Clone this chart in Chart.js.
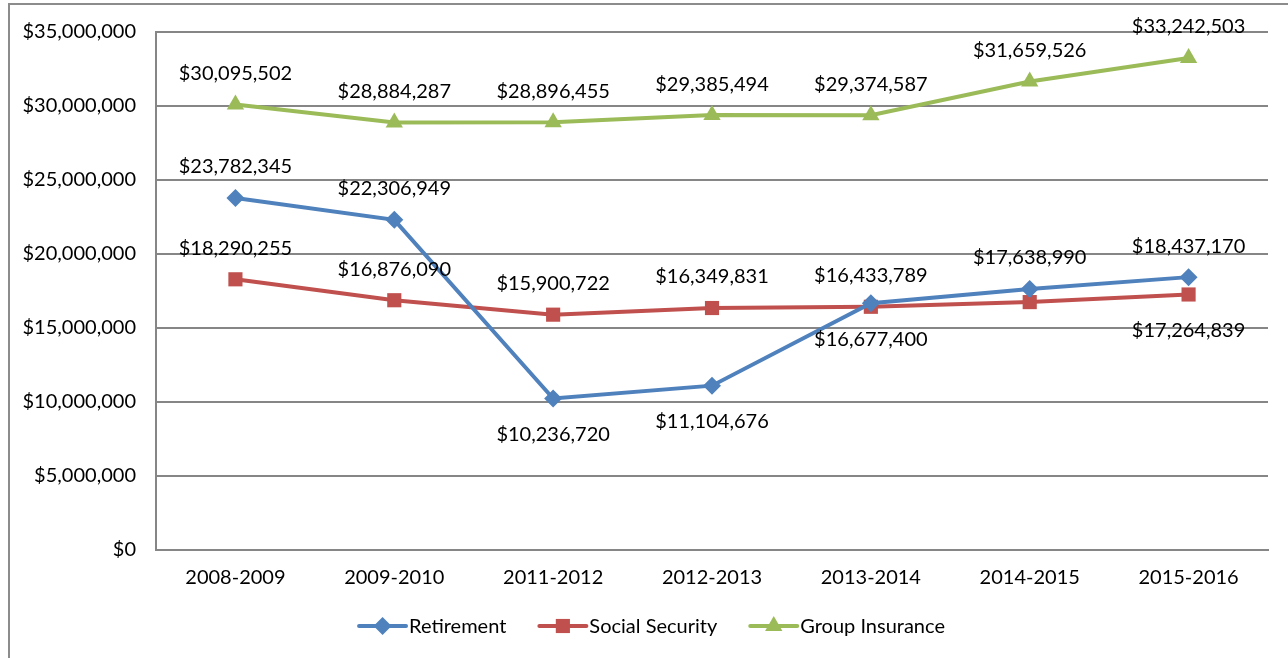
<!DOCTYPE html>
<html>
<head>
<meta charset="utf-8">
<script src="https://cdn.jsdelivr.net/npm/chart.js@4.4.1/dist/chart.umd.min.js"></script>
<style>
  body { margin: 0; background: #fff; overflow: hidden; }
  #frame { position: absolute; left: 8px; top: 3px; width: 1300px; height: 700px; border: 2px solid #8c8c8c; }
  #wrap { position: absolute; left: 0; top: 0; width: 1288px; height: 658px; }
</style>
</head>
<body>
<div id="frame"></div>
<div id="wrap"><canvas id="pensionChart"></canvas></div>
<script>
const years = ['2008-2009', '2009-2010', '2011-2012', '2012-2013', '2013-2014', '2014-2015', '2015-2016'];
const retirement = [23782345, 22306949, 10236720, 11104676, 16677400, 17638990, 18437170];
const socialSecurity = [18290255, 16876090, 15900722, 16349831, 16433789, 16750000, 17264839];
const groupInsurance = [30095502, 28884287, 28896455, 29385494, 29374587, 31659526, 33242503];
const yTicks = [0, 5000000, 10000000, 15000000, 20000000, 25000000, 30000000, 35000000];

// where each value label sits: 'a' above, 'b' below, '' none
const retirementLabelPos = ['a', 'a', 'b', 'b', 'b', 'a', 'a'];
const socialLabelPos = ['a', 'a', 'a', 'a', 'a', '', 'b'];
const groupLabelPos = ['a', 'a', 'a', 'a', 'a', 'a', 'a'];

const FONT = 'Lato, "Open Sans", sans-serif';
const FS = 20;
const money = v => '$' + v.toLocaleString('en-US');

const valueLabels = {
    id: 'valueLabels',
    afterDatasetsDraw(chart) {
        const ctx = chart.ctx;
        ctx.save();
        ctx.font = FS + 'px ' + FONT;
        ctx.fillStyle = '#000';
        ctx.textAlign = 'center';
        ctx.textBaseline = 'middle';
        chart.data.datasets.forEach((ds, i) => {
            const meta = chart.getDatasetMeta(i);
            meta.data.forEach((pt, j) => {
                const pos = ds.labelPos[j];
                if (!pos) return;
                const dy = pos === 'a' ? -31 : 36;
                ctx.fillText(money(ds.data[j]), pt.x, pt.y + dy);
            });
        });
        ctx.restore();
    }
};

const lineLegend = {
    id: 'lineLegend',
    afterDraw(chart) {
        const ctx = chart.ctx;
        const y = 626;
        ctx.save();
        ctx.font = FS + 'px ' + FONT;
        ctx.textBaseline = 'middle';
        const items = chart.data.datasets.map(ds => ({ ds, w: 47 + 3 + ctx.measureText(ds.label).width }));
        const gap = 33;
        const total = items.reduce((s, it) => s + it.w, 0) + gap * (items.length - 1);
        let x = 652 - total / 2;
        items.forEach(it => {
            const ds = it.ds;
            ctx.strokeStyle = ds.borderColor;
            ctx.lineWidth = 4;
            ctx.lineCap = 'round';
            ctx.beginPath();
            ctx.moveTo(x, y);
            ctx.lineTo(x + 47, y);
            ctx.stroke();
            ctx.fillStyle = ds.borderColor;
            Chart.helpers.drawPoint(ctx, {
                pointStyle: ds.pointStyle, radius: ds.pointRadius, rotation: 0, borderWidth: 0
            }, x + 23.5, y);
            ctx.fillStyle = '#000';
            ctx.textAlign = 'left';
            ctx.fillText(ds.label, x + 50, y + 1);
            x += it.w + gap;
        });
        ctx.restore();
    }
};

const canvas = document.getElementById('pensionChart');
const pensionChart = new Chart(canvas, {
    type: 'line',
    data: {
        labels: years,
        datasets: [{
            label: 'Retirement',
            data: retirement,
            labelPos: retirementLabelPos,
            borderColor: '#4F81BD',
            backgroundColor: '#4F81BD',
            borderWidth: 4,
            pointStyle: 'rectRot',
            pointRadius: 9,
            pointBorderWidth: 0,
            fill: false,
            tension: 0
        }, {
            label: 'Social Security',
            data: socialSecurity,
            labelPos: socialLabelPos,
            borderColor: '#C0504D',
            backgroundColor: '#C0504D',
            borderWidth: 4,
            pointStyle: 'rect',
            pointRadius: 10,
            pointBorderWidth: 0,
            fill: false,
            tension: 0
        }, {
            label: 'Group Insurance',
            data: groupInsurance,
            labelPos: groupLabelPos,
            borderColor: '#9BBB59',
            backgroundColor: '#9BBB59',
            borderWidth: 4,
            pointStyle: 'triangle',
            pointRadius: 10,
            pointBorderWidth: 0,
            fill: false,
            tension: 0
        }]
    },
    options: {
        responsive: true,
        maintainAspectRatio: false,
        animation: false,
        layout: { padding: { top: 22, right: 20, bottom: 60, left: 0 } },
        plugins: {
            legend: { display: false },
            tooltip: { enabled: false }
        },
        scales: {
            x: {
                offset: true,
                grid: { display: false, drawTicks: false, offset: true },
                border: { color: '#868686', width: 2 },
                ticks: { color: '#000', font: { family: FONT, size: FS }, padding: 16, maxRotation: 0 },
                afterFit(scale) { scale.height = 48; }
            },
            y: {
                min: 0,
                max: 35000000,
                afterBuildTicks(scale) { scale.ticks = yTicks.map(v => ({ value: v })); },
                grid: { color: '#868686', lineWidth: 2, drawTicks: false },
                border: { color: '#868686', width: 2 },
                ticks: {
                    color: '#000',
                    font: { family: FONT, size: FS },
                    padding: 20,
                    callback: v => money(v)
                },
                afterFit(scale) { scale.width = 156; }
            }
        }
    },
    plugins: [valueLabels, lineLegend]
});
</script>
</body>
</html>
